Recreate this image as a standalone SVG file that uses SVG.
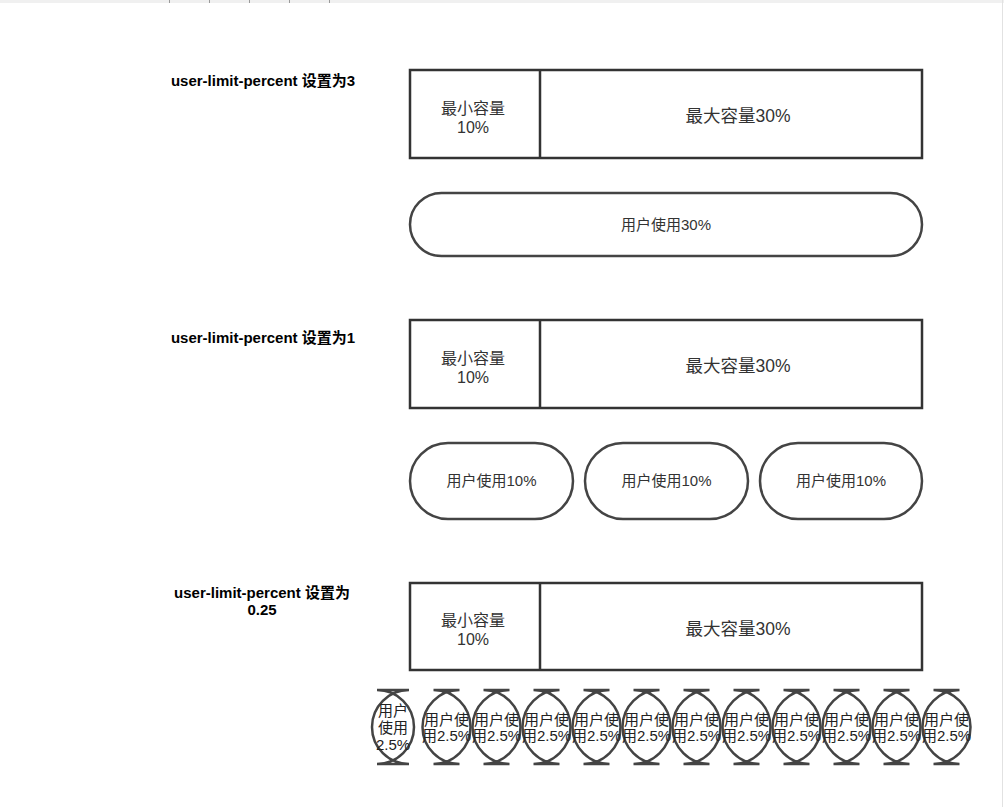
<svg xmlns="http://www.w3.org/2000/svg" width="1004" height="807" viewBox="0 0 1004 807">
<style>
.bg{fill:#ffffff}
.box{fill:#ffffff;stroke:#333333;stroke-width:2.5}
.div{stroke:#333333;stroke-width:2.5}
.pill{fill:#ffffff;stroke:#444444;stroke-width:2.5}
.term{fill:#ffffff;stroke:#444444;stroke-width:2.5}
.lbl{font-family:"Liberation Sans","Noto Sans CJK SC",sans-serif;font-size:15px;font-weight:bold;fill:#000000;text-anchor:middle}
.tmin{font-family:"Liberation Sans","Noto Sans CJK SC",sans-serif;font-size:16px;fill:#333333;text-anchor:middle}
.tmax{font-family:"Liberation Sans","Noto Sans CJK SC",sans-serif;font-size:17.5px;fill:#333333;text-anchor:middle}
.tpill{font-family:"Liberation Sans","Noto Sans CJK SC",sans-serif;font-size:15px;fill:#333333;text-anchor:middle}
.tsm{font-family:"Liberation Sans","Noto Sans CJK SC",sans-serif;font-size:15px;fill:#222222;text-anchor:middle}
</style>
<rect class="bg" x="0" y="0" width="1004" height="807"/>
<g id="topstrip">
<rect x="0" y="0" width="1004" height="3" fill="#f0f0f0"/>
<g stroke="#9a9a9a" stroke-width="1">
<line x1="169.5" y1="0" x2="169.5" y2="3"/>
<line x1="209.5" y1="0" x2="209.5" y2="3"/>
<line x1="249.5" y1="0" x2="249.5" y2="3"/>
<line x1="289.5" y1="0" x2="289.5" y2="3"/>
<line x1="329.5" y1="0" x2="329.5" y2="3"/>
</g>
<line x1="1002.5" y1="0" x2="1002.5" y2="807" stroke="#e2e2e2" stroke-width="1"/>
</g>

<g id="label1"><text class="lbl" x="263" y="86">user-limit-percent 设置为3</text></g>
<g id="label2"><text class="lbl" x="263" y="343">user-limit-percent 设置为1</text></g>
<g id="label3"><text class="lbl" x="262" y="598">user-limit-percent 设置为</text><text class="lbl" x="262" y="615">0.25</text></g>

<g id="cap1">
<rect class="box" x="410" y="70" width="512" height="88"/>
<line class="div" x1="540" y1="70" x2="540" y2="158"/>
<text class="tmin" x="473" y="113.5">最小容量</text>
<text class="tmin" x="473" y="132.5">10%</text>
<text class="tmax" x="738" y="122">最大容量30%</text>
</g>
<g id="use1">
<rect class="pill" x="410" y="193" width="512" height="63" rx="31.5" ry="31.5"/>
<text class="tpill" x="666" y="230">用户使用30%</text>
</g>

<g id="cap2">
<rect class="box" x="410" y="320" width="512" height="88"/>
<line class="div" x1="540" y1="320" x2="540" y2="408"/>
<text class="tmin" x="473" y="363.5">最小容量</text>
<text class="tmin" x="473" y="382.5">10%</text>
<text class="tmax" x="738" y="372">最大容量30%</text>
</g>
<g id="use2a"><rect class="pill" x="410" y="443" width="163" height="76" rx="38" ry="38"/><text class="tpill" x="491.5" y="486">用户使用10%</text></g>
<g id="use2b"><rect class="pill" x="585" y="443" width="163" height="76" rx="38" ry="38"/><text class="tpill" x="666.5" y="486">用户使用10%</text></g>
<g id="use2c"><rect class="pill" x="760" y="443" width="162" height="76" rx="38" ry="38"/><text class="tpill" x="841" y="486">用户使用10%</text></g>

<g id="cap3">
<rect class="box" x="410" y="583" width="512" height="87"/>
<line class="div" x1="540" y1="583" x2="540" y2="670"/>
<text class="tmin" x="473" y="626">最小容量</text>
<text class="tmin" x="473" y="645">10%</text>
<text class="tmax" x="738" y="635">最大容量30%</text>
</g>

<g id="u1"><path class="term" d="M409,690 L377,690 A37,37 0 0 1 377,764 L409,764 A37,37 0 0 1 409,690 Z"/>
<text class="tsm" x="393" y="716">用户</text><text class="tsm" x="393" y="733">使用</text><text class="tsm" x="393" y="750">2.5%</text></g>
<g id="u2"><path class="term" d="M459.5,690 L433.5,690 A37,37 0 0 1 433.5,764 L459.5,764 A37,37 0 0 1 459.5,690 Z"/><text class="tsm" x="446.5" y="725">用户使</text><text class="tsm" x="446.5" y="741">用2.5%</text></g>
<g id="u3"><path class="term" d="M509.5,690 L483.5,690 A37,37 0 0 1 483.5,764 L509.5,764 A37,37 0 0 1 509.5,690 Z"/><text class="tsm" x="496.5" y="725">用户使</text><text class="tsm" x="496.5" y="741">用2.5%</text></g>
<g id="u4"><path class="term" d="M559.5,690 L533.5,690 A37,37 0 0 1 533.5,764 L559.5,764 A37,37 0 0 1 559.5,690 Z"/><text class="tsm" x="546.5" y="725">用户使</text><text class="tsm" x="546.5" y="741">用2.5%</text></g>
<g id="u5"><path class="term" d="M609.5,690 L583.5,690 A37,37 0 0 1 583.5,764 L609.5,764 A37,37 0 0 1 609.5,690 Z"/><text class="tsm" x="596.5" y="725">用户使</text><text class="tsm" x="596.5" y="741">用2.5%</text></g>
<g id="u6"><path class="term" d="M659.5,690 L633.5,690 A37,37 0 0 1 633.5,764 L659.5,764 A37,37 0 0 1 659.5,690 Z"/><text class="tsm" x="646.5" y="725">用户使</text><text class="tsm" x="646.5" y="741">用2.5%</text></g>
<g id="u7"><path class="term" d="M709.5,690 L683.5,690 A37,37 0 0 1 683.5,764 L709.5,764 A37,37 0 0 1 709.5,690 Z"/><text class="tsm" x="696.5" y="725">用户使</text><text class="tsm" x="696.5" y="741">用2.5%</text></g>
<g id="u8"><path class="term" d="M759.5,690 L733.5,690 A37,37 0 0 1 733.5,764 L759.5,764 A37,37 0 0 1 759.5,690 Z"/><text class="tsm" x="746.5" y="725">用户使</text><text class="tsm" x="746.5" y="741">用2.5%</text></g>
<g id="u9"><path class="term" d="M809.5,690 L783.5,690 A37,37 0 0 1 783.5,764 L809.5,764 A37,37 0 0 1 809.5,690 Z"/><text class="tsm" x="796.5" y="725">用户使</text><text class="tsm" x="796.5" y="741">用2.5%</text></g>
<g id="u10"><path class="term" d="M859.5,690 L833.5,690 A37,37 0 0 1 833.5,764 L859.5,764 A37,37 0 0 1 859.5,690 Z"/><text class="tsm" x="846.5" y="725">用户使</text><text class="tsm" x="846.5" y="741">用2.5%</text></g>
<g id="u11"><path class="term" d="M909.5,690 L883.5,690 A37,37 0 0 1 883.5,764 L909.5,764 A37,37 0 0 1 909.5,690 Z"/><text class="tsm" x="896.5" y="725">用户使</text><text class="tsm" x="896.5" y="741">用2.5%</text></g>
<g id="u12"><path class="term" d="M959.5,690 L933.5,690 A37,37 0 0 1 933.5,764 L959.5,764 A37,37 0 0 1 959.5,690 Z"/><text class="tsm" x="946.5" y="725">用户使</text><text class="tsm" x="946.5" y="741">用2.5%</text></g>

<g id="connectors"></g>
</svg>
